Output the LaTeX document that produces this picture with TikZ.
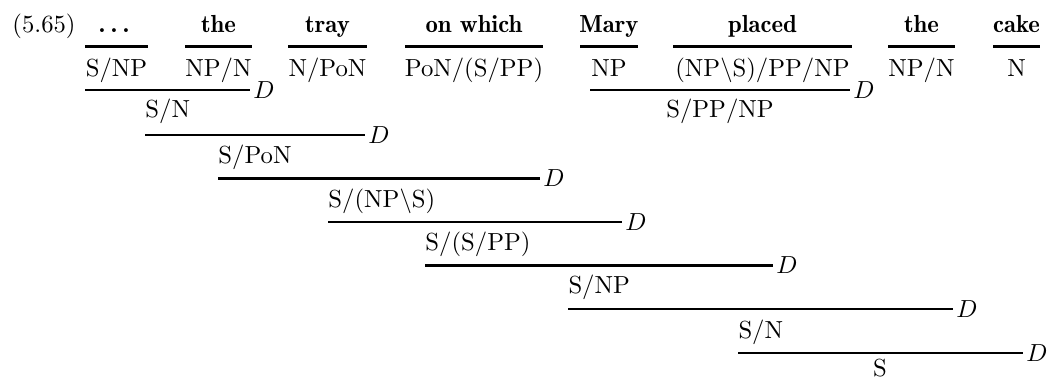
\documentclass[tikz,border=0pt]{standalone}
\begin{document}
\begin{tikzpicture}[x=0.405pt, y=-0.405pt,
  word/.style={font=\fontseries{b}\selectfont, anchor=base, inner sep=0pt},
  cat/.style={anchor=base, inner sep=0pt},
  res/.style={anchor=base west, inner sep=0pt},
  rule/.style={line width=1.1pt},
  dlab/.style={anchor=west, inner sep=0.8pt}]
\clip (0,0) rectangle (1047,380);
\fill[white] (0,0) rectangle (1047,380);

% example number
\node[anchor=base west, inner sep=0pt] (num) at (12,33) {(5.65)};

% lexical items
\node[word] (w1) at (114,33) {.\kern2.1pt.\kern2.1pt.};
\node[word] (w2) at (218.5,33) {the};
\node[word] (w3) at (327.5,33) {tray};
\node[word] (w4) at (474,33) {on which};
\node[word] (w5) at (609,33) {Mary};
\node[word] (w6) at (762.5,33) {placed};
\node[word] (w7) at (921.5,33) {the};
\node[word] (w8) at (1016.5,33) {cake};

\draw[rule] (85,46.6) -- (148,46.6);
\draw[rule] (185,46.6) -- (252,46.6);
\draw[rule] (288,46.6) -- (367,46.6);
\draw[rule] (405,46.6) -- (543,46.6);
\draw[rule] (580,46.6) -- (638,46.6);
\draw[rule] (673,46.6) -- (852,46.6);
\draw[rule] (888,46.6) -- (955,46.6);
\draw[rule] (993,46.6) -- (1040,46.6);

% lexical categories
\node[cat] (c1) at (116.5,77) {S/NP};
\node[cat] (c2) at (218.5,77) {NP/N};
\node[cat] (c3) at (327.5,77) {N/PoN};
\node[cat] (c4) at (474,77) {PoN/(S/PP)};
\node[cat] (c5) at (609,77) {NP};
\node[cat] (c6) at (762.5,77) {(NP\textbackslash S)/PP/NP};
\node[cat] (c7) at (921.5,77) {NP/N};
\node[cat] (c8) at (1016.5,77) {N};

% combination steps
\draw[rule] (85,90) -- (250,90) node[dlab] (d1) {$D$};
\node[res] (r1) at (145,118) {S/N};

\draw[rule] (590,90) -- (850,90) node[dlab] (d2) {$D$};
\node[cat] (r2) at (720,118) {S/PP/NP};

\draw[rule] (145,135) -- (365,135) node[dlab] (d3) {$D$};
\node[res] (r3) at (218,164) {S/PoN};

\draw[rule] (218,178.5) -- (540,178.5) node[dlab] (d4) {$D$};
\node[res] (r4) at (328,208) {S/(NP\textbackslash S)};

\draw[rule] (328,222) -- (622,222) node[dlab] (d5) {$D$};
\node[res] (r5) at (425,251) {S/(S/PP)};

\draw[rule] (425,265.5) -- (773,265.5) node[dlab] (d6) {$D$};
\node[res] (r6) at (568,294) {S/NP};

\draw[rule] (568,309) -- (953,309) node[dlab] (d7) {$D$};
\node[res] (r7) at (738,339) {S/N};

\draw[rule] (738,353) -- (1023,353) node[dlab] (d8) {$D$};
\node[cat] (r8) at (880,377) {S};
\end{tikzpicture}
\end{document}
